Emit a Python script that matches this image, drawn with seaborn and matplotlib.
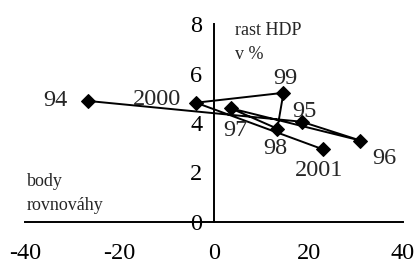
import matplotlib
matplotlib.use("Agg")
import matplotlib.pyplot as plt
import seaborn as sns
import pandas as pd

# Data: balance (x) vs GDP growth (y), in year order
years = ["94", "95", "96", "97", "98", "99", "2000", "2001"]
balance = [-26.6, 18.6, 31.0, 3.6, 13.4, 14.7, -3.8, 23.0]
growth = [4.89, 4.05, 3.29, 4.59, 3.77, 5.22, 4.82, 2.94]

# label offsets in pixels (dx, dy)
label_dx = [-33, 3, 24, 4, -2, 2, -39, -4]
label_dy = [0, 10, -18, -22, -20, 14, 3, -21]

df = pd.DataFrame({"year": years, "x": balance, "y": growth})

sns.set_style("white")
plt.rcParams["font.family"] = ["Liberation Serif", "DejaVu Serif"]
plt.rcParams["axes.unicode_minus"] = False

fig = plt.figure(figsize=(4.15, 2.64), dpi=100)
ax = fig.add_axes([25 / 415, 42 / 264, 378 / 415, 198 / 264])

sns.lineplot(data=df, x="x", y="y", sort=False, color="black", linewidth=1.4,
             marker="D", markersize=7.5, markeredgecolor="black", ax=ax)

for yr, xv, yv, dx, dy in zip(years, balance, growth, label_dx, label_dy):
    ax.annotate(yr, (xv, yv), xytext=(dx, dy), textcoords="offset pixels",
                ha="center", va="center", fontsize=17.5)

ax.set_xlim(-40, 40)
ax.set_ylim(0, 8)
ax.set_xticks([-40, -20, 0, 20, 40])
ax.set_yticks([0, 2, 4, 6, 8])
ax.set_xlabel("")
ax.set_ylabel("")

ax.spines["left"].set_position(("data", 0))
ax.spines["bottom"].set_position(("data", 0))
ax.spines["top"].set_visible(False)
ax.spines["right"].set_visible(False)
for s in ["left", "bottom"]:
    ax.spines[s].set_linewidth(1.4)
    ax.spines[s].set_color("black")

ax.tick_params(axis="both", direction="inout", length=9, width=1.4,
               labelsize=17.5, colors="black")
ax.tick_params(axis="x", pad=10.5)
ax.tick_params(axis="y", pad=4)

ax.text(0.555, 1.01, "rast HDP\nv %", transform=ax.transAxes, fontsize=13,
        ha="left", va="top", linespacing=1.5)
ax.text(0.005, 0.145, "body\nrovnováhy", transform=ax.transAxes, fontsize=13,
        ha="left", va="center", linespacing=1.5)

fig.savefig("out.png", dpi=100)
